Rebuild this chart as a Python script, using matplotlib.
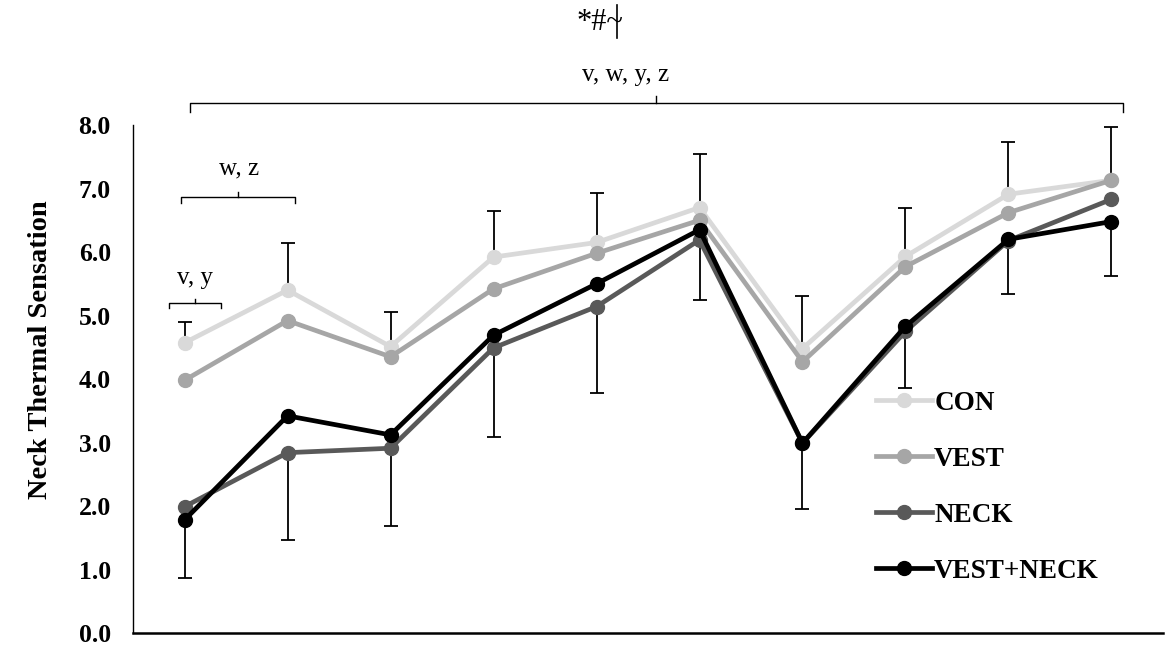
import matplotlib
matplotlib.use("Agg")
import matplotlib.pyplot as plt
import numpy as np

# Neck thermal sensation over the 10 time points, one list per condition
time_points = np.arange(10)
con = [4.57, 5.40, 4.51, 5.92, 6.15, 6.70, 4.48, 5.93, 6.91, 7.13]
vest = [3.98, 4.92, 4.35, 5.42, 5.98, 6.50, 4.27, 5.77, 6.62, 7.13]
neck = [1.99, 2.84, 2.91, 4.49, 5.14, 6.19, 2.99, 4.75, 6.18, 6.83]
vest_neck = [1.78, 3.42, 3.12, 4.69, 5.50, 6.35, 2.99, 4.83, 6.20, 6.48]

# SD bars: upward from the highest group, downward from the lowest group
sd_upper = [0.33, 0.74, 0.55, 0.72, 0.78, 0.85, 0.82, 0.76, 0.83, 0.84]
sd_lower = [0.91, 1.38, 1.23, 1.41, 1.36, 0.95, 1.04, 0.89, 0.84, 0.86]

labels = ["CON", "VEST", "NECK", "VEST+NECK"]
colors = ["#d9d9d9", "#a6a6a6", "#595959", "#000000"]

plt.rcParams['font.family'] = ['Liberation Serif', 'DejaVu Serif']

fig = plt.figure(figsize=(11.68, 6.46), dpi=100)
ax = fig.add_axes([0.1139, 0.0201, 0.8818, 0.7864])

# Error bars first so the markers sit on top of them
all_series = np.array([con, vest, neck, vest_neck])
top = all_series.max(axis=0)
bottom = all_series.min(axis=0)
ax.errorbar(time_points, top, yerr=[np.zeros(10), sd_upper], fmt='none',
            ecolor='black', elinewidth=1.3, capsize=5, capthick=1.3, zorder=1)
ax.errorbar(time_points, bottom, yerr=[sd_lower, np.zeros(10)], fmt='none',
            ecolor='black', elinewidth=1.3, capsize=5, capthick=1.3, zorder=1)

for i, (vals, lab, col) in enumerate(zip(all_series, labels, colors)):
    ax.plot(time_points, vals, '-o', color=col, lw=3.4, ms=10,
            label=lab, zorder=2 + i)

ax.set_xlim(-0.5, 9.5)
ax.set_ylim(0, 8.0)
ax.set_yticks(np.arange(0, 8.1, 1.0))
ax.set_yticklabels([f"{v:.1f}" for v in np.arange(0, 8.1, 1.0)],
                   fontsize=18.5, fontweight='bold')
ax.set_xticks([])
ax.tick_params(axis='y', length=0, pad=16)
ax.spines['top'].set_visible(False)
ax.spines['right'].set_visible(False)
ax.spines['left'].set_linewidth(1.0)
ax.spines['bottom'].set_linewidth(1.8)

# y label sits a little above the middle of the axis
fig.text(0.0351, 0.4582, "Neck Thermal Sensation", rotation=90,
         ha='center', va='center', fontsize=20.5, fontweight='bold')

# Significance brackets above the lines
def bracket(x0, x1, y, h, text, tx, ty):
    xm = (x0 + x1) / 2
    ax.plot([x0, x0, x1, x1], [y - h, y, y, y - h], color='black', lw=1.0,
            clip_on=False)
    ax.plot([xm, xm], [y, y + h * 0.8], color='black', lw=1.0, clip_on=False)
    ax.text(tx, ty, text, ha='center', va='center', fontsize=18,
            clip_on=False)

bracket(0.05, 9.11, 8.35, 0.14, "v, w, y, z", 4.28, 8.79)
bracket(-0.03, 1.07, 6.87, 0.10, "w, z", 0.53, 7.32)
bracket(-0.15, 0.35, 5.20, 0.08, "v, y", 0.10, 5.59)
ax.text(4.03, 9.62, "*#~", ha='center', va='center', fontsize=22,
        clip_on=False)
ax.plot([4.20, 4.20], [9.37, 9.89], color='black', lw=1.2, clip_on=False)

ax.legend(loc='upper left', bbox_to_anchor=(0.7384, 0.4158),
          bbox_transform=fig.transFigure, frameon=False,
          prop={'size': 19.5, 'weight': 'bold'}, handlelength=2.05,
          handletextpad=0.1, labelspacing=1.14, borderpad=0)

fig.savefig("out.png", dpi=100)
